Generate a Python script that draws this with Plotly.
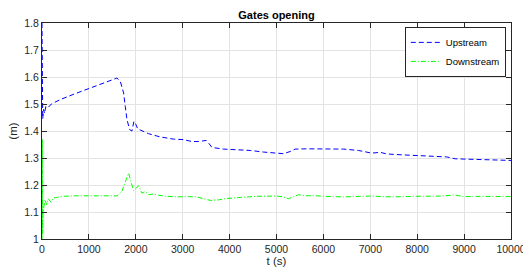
import plotly.graph_objects as go

# Upstream gate opening (m) vs time (s)
t_up = [0, 15, 35, 55, 80, 120, 200, 384, 703, 987, 1377, 1598, 1669, 1740, 1775,
        1812, 1870, 1918, 1960, 2000, 2040, 2131, 2273, 2521, 2805, 3018, 3196,
        3338, 3501, 3551, 3623, 3871, 4191, 4439, 4722, 4972, 5149, 5291, 5398,
        5647, 6001, 6427, 6747, 6889, 7032, 7209, 7351, 7635, 7991, 8346, 8630,
        8808, 8985, 9340, 9695, 10000]
v_up = [1.80, 1.445, 1.48, 1.465, 1.49, 1.485, 1.50, 1.516, 1.538, 1.557, 1.584,
        1.596, 1.584, 1.541, 1.491, 1.442, 1.405, 1.400, 1.436, 1.425, 1.408,
        1.402, 1.390, 1.378, 1.370, 1.368, 1.361, 1.361, 1.365, 1.356, 1.339,
        1.333, 1.331, 1.328, 1.322, 1.319, 1.316, 1.324, 1.333, 1.334, 1.333,
        1.333, 1.328, 1.324, 1.318, 1.321, 1.315, 1.312, 1.309, 1.306, 1.304,
        1.297, 1.296, 1.293, 1.291, 1.291]

# Downstream gate opening (m) vs time (s)
t_dn = [0, 6, 12, 22, 40, 64, 100, 134, 192, 241, 300, 418, 703, 1000, 1400, 1598,
        1700, 1780, 1846, 1900, 1953, 2059, 2131, 2202, 2273, 2379, 2485, 2663,
        2876, 3124, 3303, 3444, 3587, 3764, 3942, 4226, 4581, 5008, 5149, 5256,
        5362, 5469, 5611, 5789, 6001, 6427, 6996, 7422, 7991, 8488, 8808, 8985,
        9340, 10000]
v_dn = [1.00, 1.37, 1.02, 1.10, 1.13, 1.146, 1.127, 1.149, 1.136, 1.152, 1.153,
        1.158, 1.160, 1.160, 1.160, 1.160, 1.175, 1.21, 1.244, 1.21, 1.18, 1.197,
        1.170, 1.176, 1.164, 1.167, 1.162, 1.158, 1.156, 1.157, 1.156, 1.149,
        1.143, 1.145, 1.150, 1.154, 1.158, 1.159, 1.156, 1.149, 1.156, 1.164,
        1.160, 1.161, 1.158, 1.156, 1.159, 1.156, 1.158, 1.159, 1.163, 1.157,
        1.158, 1.157]

x_ticks = list(range(0, 10001, 1000))
y_ticks = [1.0, 1.1, 1.2, 1.3, 1.4, 1.5, 1.6, 1.7, 1.8]
y_labels = ["1", "1.1", "1.2", "1.3", "1.4", "1.5", "1.6", "1.7", "1.8"]

FONT = "Liberation Sans, Arial, sans-serif"
TXT = "#262626"

fig = go.Figure()
fig.add_trace(go.Scatter(x=t_up, y=v_up, mode="lines", name="Upstream",
                         line=dict(color="#0000ff", width=1, dash="5px,3px")))
fig.add_trace(go.Scatter(x=t_dn, y=v_dn, mode="lines", name="Downstream",
                         line=dict(color="#00ff00", width=1, dash="5px,2px,1px,2px")))

axis_common = dict(
    showline=True, linecolor="#262626", linewidth=1.3, mirror="ticks",
    ticks="inside", ticklen=5, tickwidth=1, tickcolor="#262626",
    showgrid=True, gridcolor="#e3e3e3", gridwidth=1, zeroline=False,
    tickfont=dict(family=FONT, size=10.5, color=TXT),
    automargin=False, ticklabeloverflow="allow",
)

fig.update_layout(
    width=523, height=271,
    margin=dict(l=42, r=12, t=23, b=32, autoexpand=False),
    paper_bgcolor="white", plot_bgcolor="white",
    title=dict(text="<b>Gates opening</b>", x=0.5, xref="paper", xanchor="center",
               y=1, yref="paper", yanchor="bottom", pad=dict(b=4),
               font=dict(family=FONT, size=11, color="black"), automargin=False),
    xaxis=dict(range=[0, 10000], tickvals=x_ticks, ticktext=[str(v) for v in x_ticks],
               title=dict(text="t (s)", font=dict(family=FONT, size=11.5, color=TXT),
                          standoff=2), **axis_common),
    yaxis=dict(range=[1.0, 1.8], tickvals=y_ticks, ticktext=y_labels,
               title=dict(text="(m)", font=dict(family=FONT, size=11.5, color=TXT),
                          standoff=4), **axis_common),
    legend=dict(x=0.989, y=0.982, xanchor="right", yanchor="top",
                bgcolor="white", bordercolor="#262626", borderwidth=1,
                font=dict(family=FONT, size=9.5, color="black"),
                itemwidth=30, tracegroupgap=0),
    showlegend=True,
)

fig.write_html("out.html", config={"displayModeBar": False},
               post_script="document.body.style.margin='0';document.body.style.overflow='hidden';")
